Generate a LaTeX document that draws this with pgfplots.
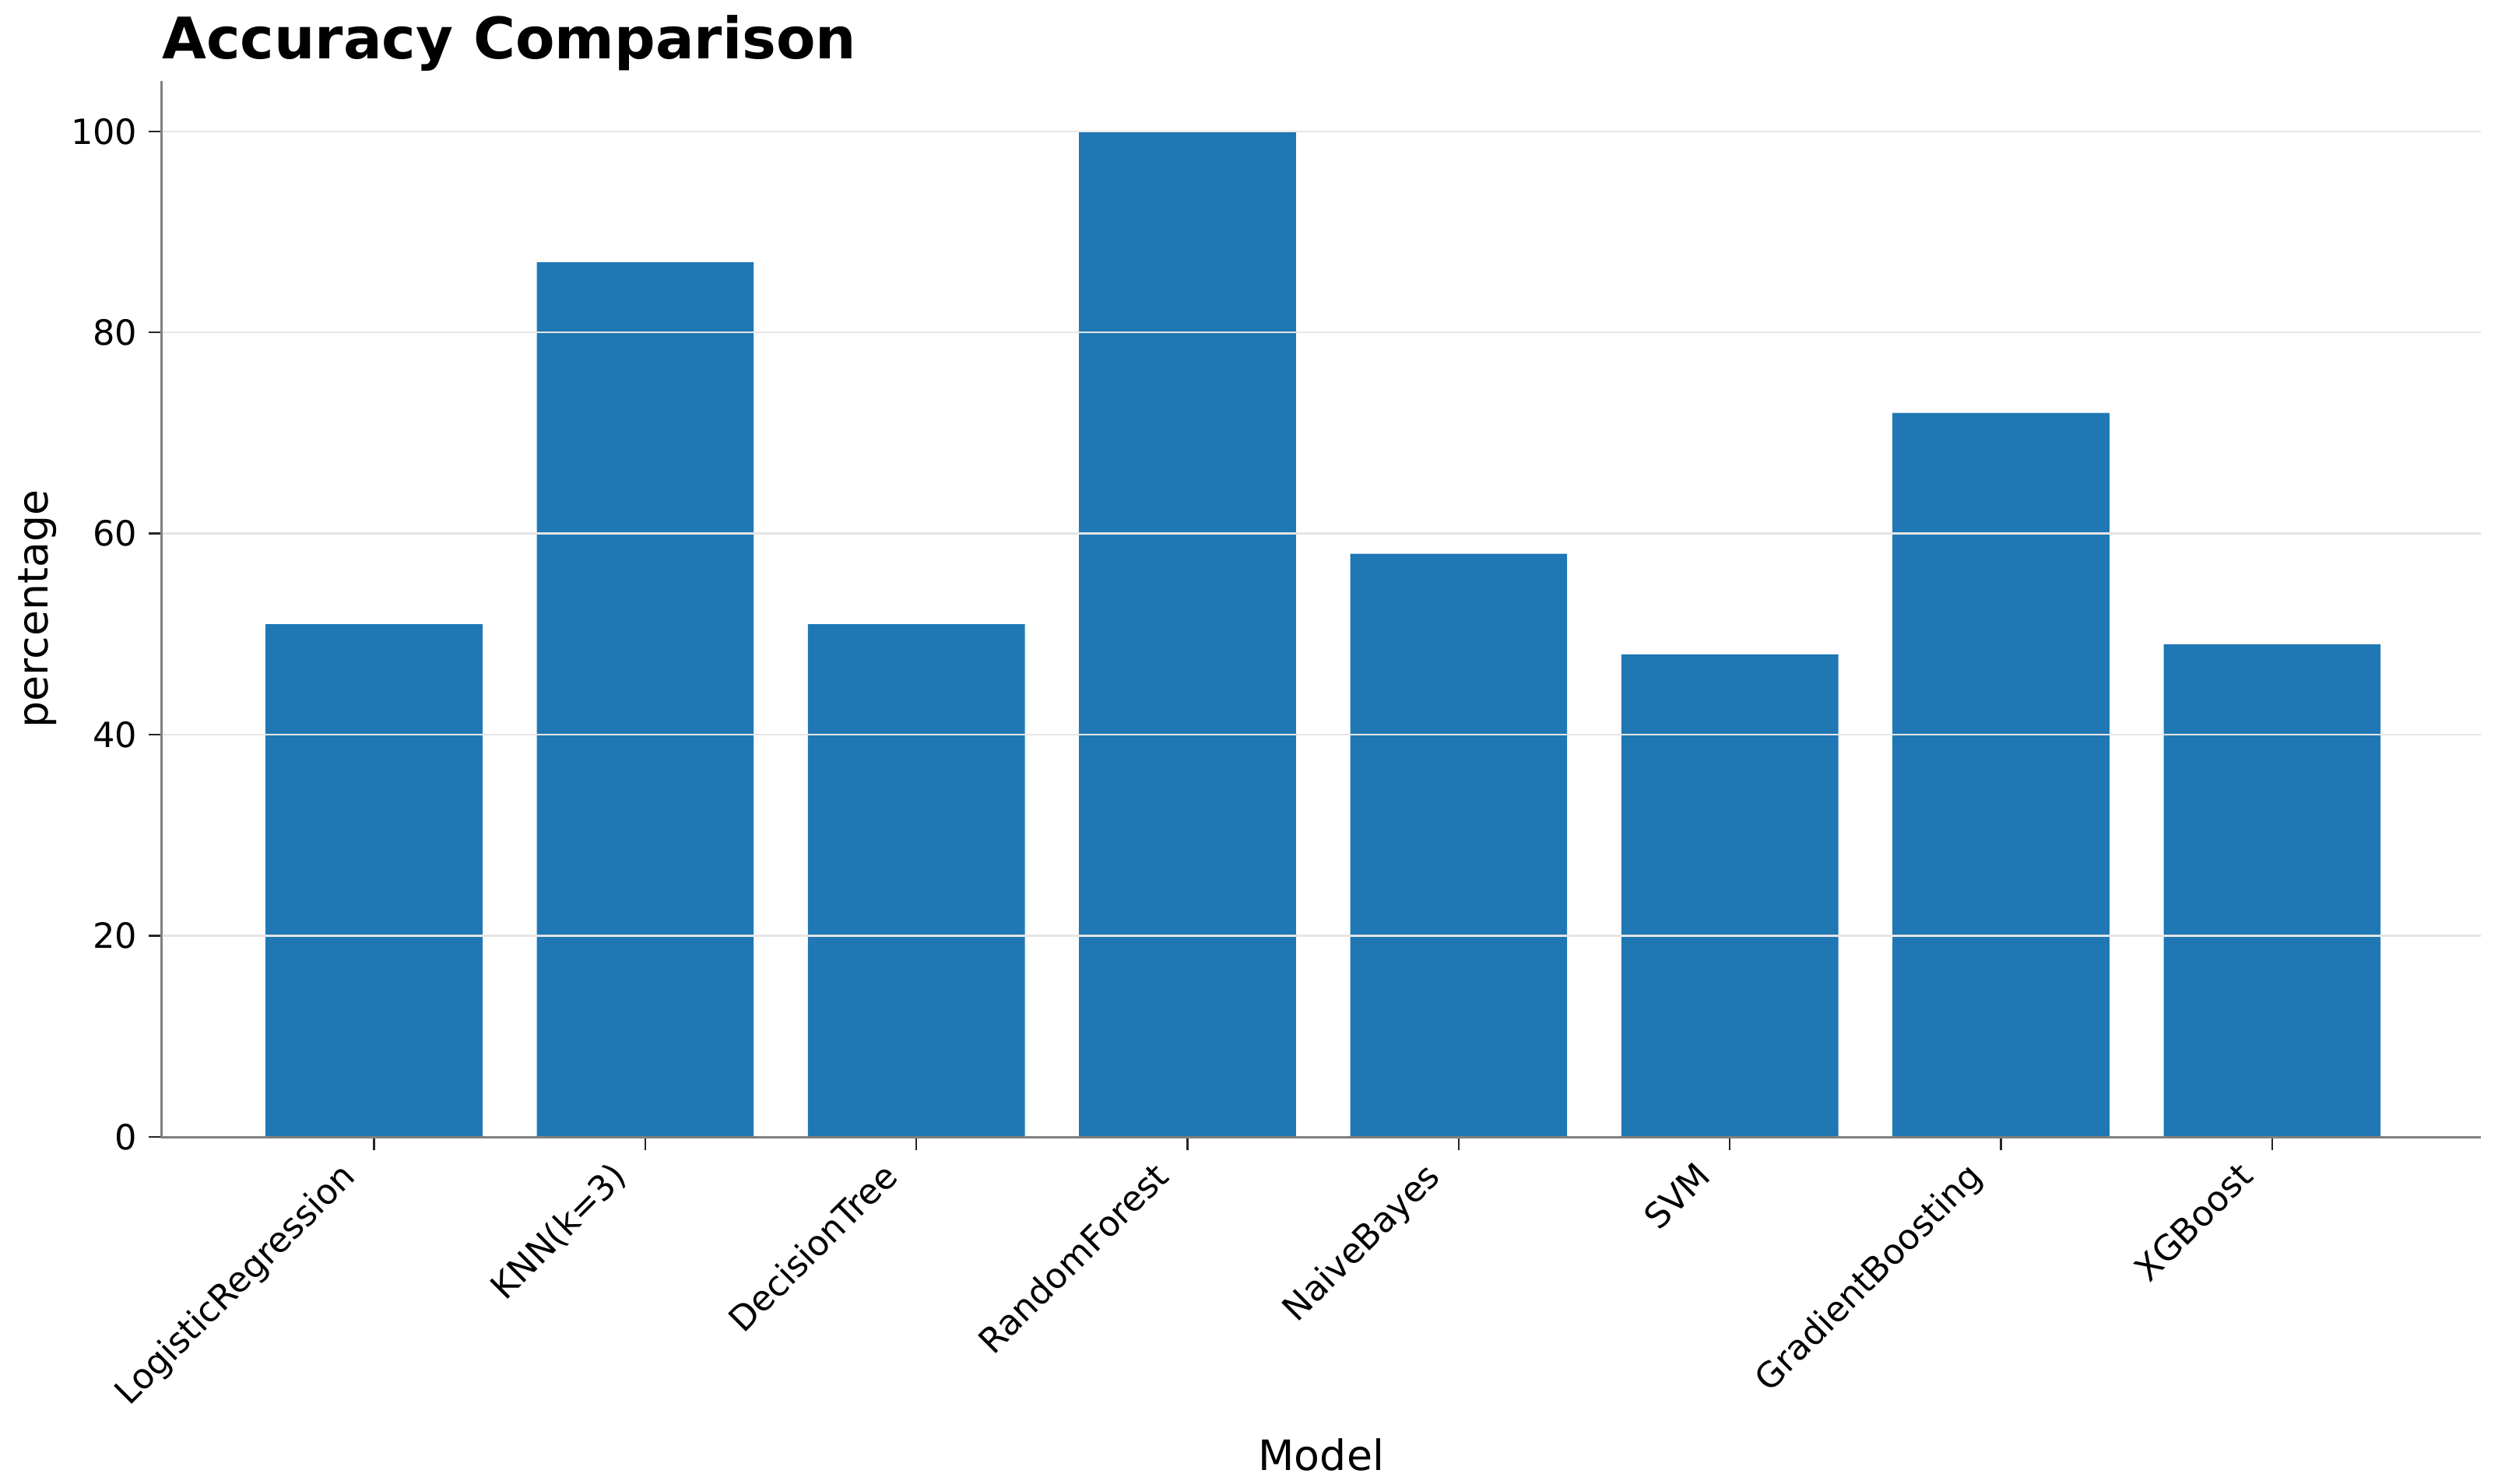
\documentclass[border=0pt]{standalone}
\usepackage{fontspec}
\setmainfont{DejaVu Sans}
\usepackage{pgfplots}
\pgfplotsset{compat=1.18}

\definecolor{barblue}{HTML}{1F77B4}
\definecolor{spine}{HTML}{808080}

\pgfplotstableread{
x acc
0 51
1 87
2 51
3 100
4 58
5 48
6 72
7 49
}\accdata

\begin{document}
\begin{tikzpicture}
\begin{axis}[
  name=ax,
  width=718bp, height=327bp,
  scale only axis,
  clip=false,
  ybar, bar width=0.8, bar shift=0pt,
  xmin=-0.784, xmax=7.77,
  ymin=0, ymax=105,
  xtick={0,...,7},
  xticklabels={LogisticRegression,KNN(k=3),DecisionTree,RandomForest,NaiveBayes,SVM,GradientBoosting,XGBoost},
  ytick={0,20,40,60,80,100},
  axis x line*=bottom, axis y line*=left,
  axis line style={spine, line width=0.8bp},
  tick align=outside,
  major tick length=4bp,
  tick style={black!85, line width=0.6bp},
  ymajorgrids,
  major grid style={draw=black!10, line width=0.6bp},
  axis on top,
  /pgf/number format/assume math mode=true,
  tick label style={font=\fontsize{10.8}{12}\selectfont},
  xticklabel style={xshift=-11bp, rotate=45, anchor=north east, inner sep=2bp},
  xlabel={Model},
  ylabel={percentage},
  label style={font=\fontsize{13}{15}\selectfont, inner sep=0pt},
  xlabel style={at={(axis description cs:0.5,-0.301)}, anchor=center},
  ylabel style={at={(axis description cs:-0.0533,0.5)}, anchor=center},
]
\addplot[fill=barblue, draw=none] table[x=x, y=acc] {\accdata};
\node[anchor=base west, inner sep=0pt, font=\fontsize{17.8}{20}\selectfont\bfseries]
  at ([yshift=6.8bp]rel axis cs:0,1) {Accuracy Comparison};
\end{axis}
\path ([xshift=-50bp,yshift=-107.3bp]ax.south west) rectangle ([xshift=11.8bp,yshift=25.1bp]ax.north east);
\end{tikzpicture}
\end{document}
